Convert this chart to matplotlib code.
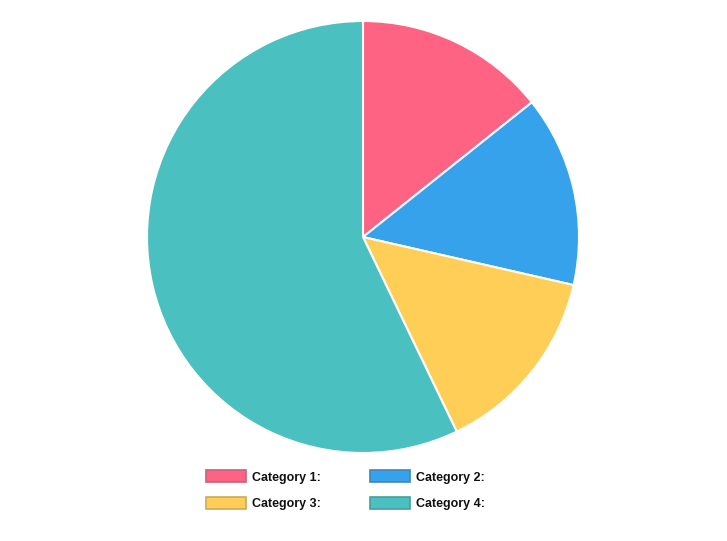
import matplotlib
matplotlib.use('Agg')
import matplotlib.pyplot as plt
from matplotlib.patches import Rectangle

# data
labels = ['Category 1:', 'Category 2:', 'Category 3:', 'Category 4:']
values = [1, 1, 1, 4]
colors = ['#FF6384', '#36A2EB', '#FFCE56', '#4BC0C0']
edges = ['#c9607a', '#3f86b8', '#c9a95a', '#4a9c9c']

W, H = 727, 541
fig = plt.figure(figsize=(W / 100, H / 100), dpi=100)
fig.patch.set_facecolor('white')

# pie: centre (363, 237), radius 216 px
cx, cy, r = 363, 237, 216
ax = fig.add_axes([(cx - r) / W, 1 - (cy + r) / H, 2 * r / W, 2 * r / H])
ax.pie(values, colors=colors, startangle=90, counterclock=False,
       wedgeprops=dict(edgecolor='white', linewidth=1.5))
ax.set_xlim(-1.0, 1.0)
ax.set_ylim(-1.0, 1.0)
ax.set_aspect('equal')
ax.axis('off')

# legend, two columns
col_x = [206, 370]
row_y = [476, 503]
for i, lab in enumerate(labels):
    x0 = col_x[i % 2]
    y0 = row_y[i // 2]
    fig.patches.append(Rectangle((x0 / W, 1 - (y0 + 6) / H), 40 / W, 12 / H,
                                 transform=fig.transFigure, facecolor=colors[i],
                                 edgecolor=edges[i], linewidth=1.2))
    fig.text((x0 + 46) / W, 1 - (y0 + 1.5) / H, lab, fontsize=9, fontweight='bold',
             family=['Liberation Sans', 'DejaVu Sans'], va='center', ha='left',
             color='#111111')

fig.savefig('out.png', dpi=100)
